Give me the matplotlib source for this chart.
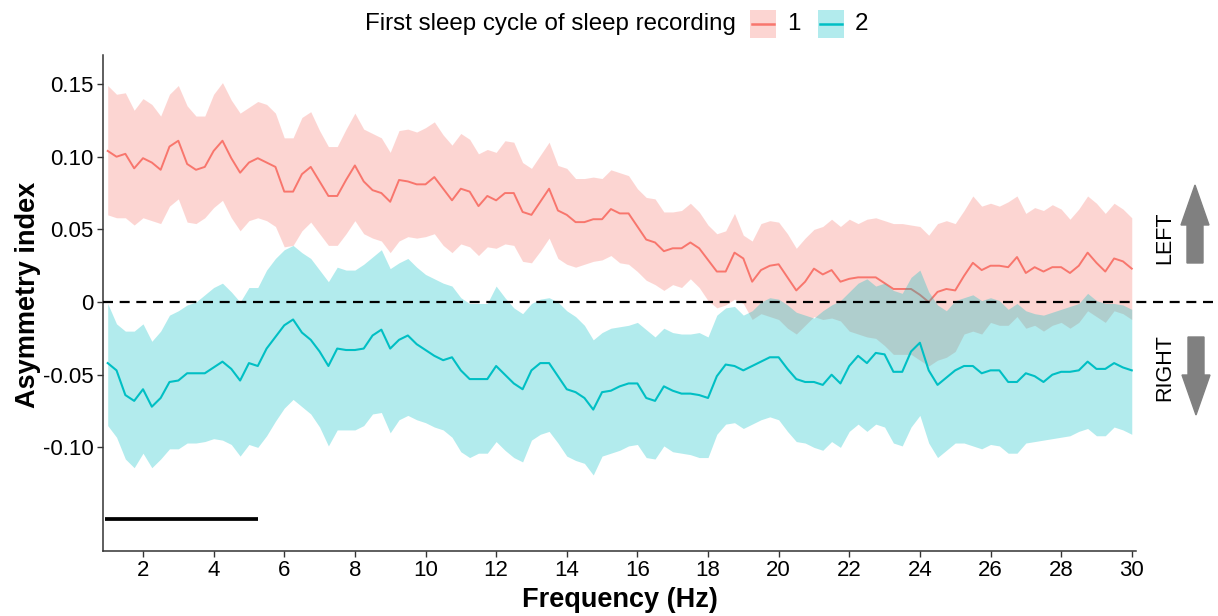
import numpy as np
import matplotlib.pyplot as plt
from matplotlib.patches import Rectangle, FancyArrow
from matplotlib.lines import Line2D

plt.rcParams['font.family'] = ['Liberation Sans', 'DejaVu Sans']

# frequency grid (Hz), 0.25 Hz bins
freq = np.arange(1.0, 30.0 + 0.001, 0.25)

# cycle 1 (red): mean and ribbon bounds
c1_mean = [0.104, 0.100, 0.102, 0.092, 0.099, 0.096, 0.091, 0.107, 0.111, 0.095, 0.091, 0.093,
           0.104, 0.111, 0.099, 0.089, 0.096, 0.099, 0.096, 0.093, 0.076, 0.076, 0.088, 0.093,
           0.083, 0.073, 0.073, 0.084, 0.094, 0.083, 0.077, 0.075, 0.069, 0.084, 0.083, 0.081,
           0.081, 0.086, 0.078, 0.070, 0.078, 0.076, 0.066, 0.073, 0.070, 0.075, 0.075, 0.062,
           0.060, 0.069, 0.078, 0.063, 0.060, 0.055, 0.055, 0.057, 0.057, 0.064, 0.061, 0.061,
           0.052, 0.043, 0.041, 0.035, 0.037, 0.037, 0.041, 0.037, 0.029, 0.021, 0.021, 0.034,
           0.030, 0.014, 0.022, 0.025, 0.026, 0.017, 0.008, 0.014, 0.023, 0.019, 0.022, 0.014,
           0.016, 0.017, 0.017, 0.017, 0.013, 0.009, 0.009, 0.009, 0.005, 0.000, 0.007, 0.009,
           0.008, 0.018, 0.027, 0.022, 0.025, 0.025, 0.024, 0.031, 0.020, 0.024, 0.021, 0.024,
           0.024, 0.020, 0.025, 0.034, 0.027, 0.021, 0.030, 0.028, 0.023]
c1_upper = [0.149, 0.143, 0.144, 0.132, 0.140, 0.136, 0.128, 0.143, 0.149, 0.135, 0.128, 0.128,
            0.143, 0.151, 0.139, 0.130, 0.134, 0.138, 0.136, 0.130, 0.113, 0.113, 0.127, 0.131,
            0.118, 0.107, 0.107, 0.119, 0.130, 0.119, 0.116, 0.113, 0.103, 0.118, 0.119, 0.117,
            0.120, 0.124, 0.115, 0.108, 0.116, 0.112, 0.102, 0.105, 0.103, 0.111, 0.110, 0.096,
            0.092, 0.101, 0.110, 0.094, 0.092, 0.085, 0.085, 0.086, 0.085, 0.091, 0.089, 0.087,
            0.078, 0.072, 0.071, 0.062, 0.062, 0.063, 0.068, 0.062, 0.053, 0.047, 0.049, 0.061,
            0.046, 0.042, 0.054, 0.056, 0.055, 0.047, 0.037, 0.044, 0.050, 0.052, 0.057, 0.052,
            0.057, 0.054, 0.057, 0.058, 0.056, 0.054, 0.054, 0.053, 0.052, 0.046, 0.054, 0.056,
            0.054, 0.063, 0.073, 0.066, 0.068, 0.066, 0.069, 0.073, 0.061, 0.065, 0.063, 0.067,
            0.064, 0.057, 0.064, 0.073, 0.068, 0.061, 0.068, 0.064, 0.058]
c1_lower = [0.060, 0.058, 0.058, 0.053, 0.058, 0.056, 0.054, 0.066, 0.071, 0.055, 0.054, 0.058,
            0.065, 0.070, 0.058, 0.049, 0.056, 0.058, 0.056, 0.052, 0.038, 0.039, 0.049, 0.055,
            0.047, 0.039, 0.039, 0.047, 0.056, 0.047, 0.044, 0.042, 0.034, 0.042, 0.045, 0.044,
            0.045, 0.047, 0.039, 0.034, 0.040, 0.038, 0.032, 0.038, 0.037, 0.040, 0.039, 0.028,
            0.027, 0.035, 0.044, 0.030, 0.026, 0.024, 0.026, 0.028, 0.029, 0.032, 0.027, 0.026,
            0.021, 0.015, 0.012, 0.008, 0.012, 0.010, 0.016, 0.010, 0.001, -0.004, -0.002, 0.002,
            -0.001, -0.012, -0.008, -0.010, -0.012, -0.018, -0.022, -0.016, -0.010, -0.012, -0.011, -0.013,
            -0.020, -0.022, -0.024, -0.025, -0.030, -0.036, -0.036, -0.036, -0.040, -0.044, -0.040, -0.038,
            -0.034, -0.022, -0.020, -0.022, -0.014, -0.016, -0.016, -0.010, -0.018, -0.016, -0.020, -0.016,
            -0.014, -0.018, -0.014, -0.006, -0.010, -0.014, -0.006, -0.008, -0.012]

# cycle 2 (cyan)
c2_mean = [-0.042, -0.047, -0.064, -0.068, -0.060, -0.072, -0.066, -0.055, -0.054, -0.049, -0.049, -0.049,
           -0.045, -0.041, -0.046, -0.054, -0.042, -0.044, -0.032, -0.024, -0.016, -0.012, -0.021, -0.026,
           -0.034, -0.044, -0.032, -0.033, -0.033, -0.032, -0.023, -0.019, -0.032, -0.026, -0.023, -0.029,
           -0.033, -0.037, -0.040, -0.038, -0.047, -0.053, -0.053, -0.053, -0.044, -0.050, -0.056, -0.060,
           -0.047, -0.042, -0.042, -0.051, -0.060, -0.062, -0.066, -0.074, -0.062, -0.061, -0.058, -0.056,
           -0.056, -0.066, -0.068, -0.058, -0.061, -0.063, -0.063, -0.064, -0.066, -0.051, -0.043, -0.044,
           -0.047, -0.044, -0.041, -0.038, -0.038, -0.046, -0.053, -0.055, -0.055, -0.057, -0.050, -0.056,
           -0.044, -0.037, -0.042, -0.035, -0.036, -0.048, -0.048, -0.034, -0.028, -0.047, -0.057, -0.052,
           -0.047, -0.044, -0.044, -0.049, -0.047, -0.047, -0.055, -0.055, -0.049, -0.051, -0.055, -0.050,
           -0.048, -0.048, -0.047, -0.041, -0.046, -0.046, -0.042, -0.045, -0.047]
c2_upper = [-0.001, -0.015, -0.020, -0.020, -0.015, -0.027, -0.020, -0.009, -0.006, -0.002, 0.000, 0.005,
            0.010, 0.013, 0.007, 0.000, 0.010, 0.010, 0.022, 0.030, 0.036, 0.039, 0.034, 0.030,
            0.022, 0.014, 0.024, 0.022, 0.022, 0.026, 0.031, 0.036, 0.023, 0.027, 0.030, 0.024,
            0.019, 0.016, 0.013, 0.011, 0.003, -0.001, -0.001, -0.001, 0.011, 0.003, -0.004, -0.008,
            -0.001, 0.002, 0.003, 0.000, -0.006, -0.010, -0.016, -0.026, -0.021, -0.018, -0.017, -0.016,
            -0.014, -0.019, -0.024, -0.018, -0.021, -0.022, -0.022, -0.021, -0.024, -0.009, -0.004, -0.003,
            -0.009, -0.006, 0.000, 0.003, 0.002, -0.002, -0.007, -0.009, -0.011, -0.006, -0.002, 0.001,
            0.007, 0.013, 0.016, 0.011, 0.013, 0.008, 0.006, 0.017, 0.022, 0.007, -0.002, -0.006,
            0.001, 0.003, 0.005, 0.001, 0.003, 0.001, -0.005, -0.001, -0.006, -0.008, -0.009, -0.007,
            -0.005, -0.003, -0.001, 0.006, 0.001, -0.001, -0.001, -0.002, -0.005]
c2_lower = [-0.085, -0.093, -0.108, -0.114, -0.104, -0.114, -0.108, -0.101, -0.101, -0.097, -0.097, -0.096,
            -0.094, -0.095, -0.098, -0.106, -0.098, -0.100, -0.092, -0.082, -0.073, -0.067, -0.072, -0.077,
            -0.086, -0.099, -0.088, -0.088, -0.088, -0.085, -0.077, -0.076, -0.090, -0.081, -0.078, -0.081,
            -0.083, -0.086, -0.088, -0.093, -0.103, -0.107, -0.104, -0.104, -0.096, -0.102, -0.107, -0.110,
            -0.095, -0.091, -0.089, -0.097, -0.106, -0.109, -0.111, -0.119, -0.106, -0.104, -0.102, -0.099,
            -0.098, -0.107, -0.108, -0.099, -0.103, -0.104, -0.105, -0.107, -0.107, -0.091, -0.084, -0.083,
            -0.087, -0.084, -0.081, -0.079, -0.081, -0.089, -0.096, -0.097, -0.100, -0.102, -0.096, -0.100,
            -0.089, -0.084, -0.089, -0.084, -0.086, -0.097, -0.099, -0.086, -0.078, -0.097, -0.107, -0.102,
            -0.097, -0.097, -0.099, -0.101, -0.098, -0.099, -0.104, -0.104, -0.097, -0.096, -0.095, -0.094,
            -0.093, -0.092, -0.089, -0.087, -0.092, -0.092, -0.086, -0.088, -0.091]

# significant frequency range bar
sig_range = [0.93, 5.25]
sig_y = -0.149

y_ticks = [-0.10, -0.05, 0, 0.05, 0.10, 0.15]
y_labels = ['-0.10', '-0.05', '0', '0.05', '0.10', '0.15']
x_ticks = list(range(2, 31, 2))
groups = ['1', '2']
red = '#F8766D'
cyan = '#00BFC4'

W, H = 1218, 616
fig = plt.figure(figsize=(W / 100, H / 100), dpi=100)
ax = fig.add_axes([103 / W, 1 - 551 / H, (1136 - 103) / W, (551 - 55) / H])

ax.fill_between(freq, c1_lower, c1_upper, color=red, alpha=0.3, lw=0, zorder=1)
ax.plot(freq, c1_mean, color=red, lw=1.4, zorder=2)
ax.fill_between(freq, c2_lower, c2_upper, color=cyan, alpha=0.3, lw=0, zorder=3)
ax.plot(freq, c2_mean, color=cyan, lw=1.5, zorder=4)

ax.axhline(0, xmin=0, xmax=1.075, color='black', lw=1.6, ls=(0, (4.5, 3)),
           clip_on=False, zorder=5)
ax.plot(sig_range, [sig_y, sig_y], color='black', lw=2.7, solid_capstyle='butt', zorder=5)

ax.set_xlim(0.867, 30.12)
ax.set_ylim(-0.1713, 0.170)
ax.set_xticks(x_ticks)
ax.set_yticks(y_ticks)
ax.set_yticklabels(y_labels)

for s in ['top', 'right']:
    ax.spines[s].set_visible(False)
for s in ['left', 'bottom']:
    ax.spines[s].set_color('#333333')
    ax.spines[s].set_linewidth(1.1)
ax.tick_params(direction='out', length=4.3, width=1.0, color='#333333',
               labelsize=16, labelcolor='black', pad=2.5)

fig.text(620 / W, 1 - 607 / H, 'Frequency (Hz)', fontsize=19.5, fontweight='bold',
         ha='center', va='baseline')
fig.text(28 / W, 1 - 295 / H, 'Asymmetry index', fontsize=19.5, fontweight='bold',
         ha='center', va='center', rotation=90)

# LEFT / RIGHT side annotations with arrows
fig.text(1165 / W, 1 - 238 / H, 'LEFT', fontsize=15.5, rotation=90, ha='center', va='center')
fig.text(1165 / W, 1 - 368 / H, 'RIGHT', fontsize=15.5, rotation=90, ha='center', va='center')
fig.patches.append(FancyArrow(1195 / W, 1 - 263 / H, 0, (263 - 185) / H, width=16 / W,
                              head_width=28 / W, head_length=40 / H, length_includes_head=True,
                              color='#808080', transform=fig.transFigure, figure=fig))
fig.patches.append(FancyArrow(1196 / W, 1 - 337 / H, 0, -(415 - 337) / H, width=16 / W,
                              head_width=28 / W, head_length=40 / H, length_includes_head=True,
                              color='#808080', transform=fig.transFigure, figure=fig))

# legend on top
fig.text(365 / W, 1 - 24 / H, 'First sleep cycle of sleep recording', fontsize=17.4,
         ha='left', va='center')
for (x0, col, lab) in [(750, red, groups[0]), (818, cyan, groups[1])]:
    fig.patches.append(Rectangle((x0 / W, 1 - 38 / H), 26 / W, 28 / H, facecolor=col,
                                 alpha=0.3, lw=0, transform=fig.transFigure, figure=fig))
    fig.lines.append(Line2D([(x0 + 2) / W, (x0 + 24) / W], [1 - 24 / H, 1 - 24 / H],
                            color=col, lw=1.8, transform=fig.transFigure, figure=fig))
    fig.text((x0 + 44) / W, 1 - 24 / H, lab, fontsize=17.4, ha='center', va='center')

fig.savefig('out.png', dpi=100)
